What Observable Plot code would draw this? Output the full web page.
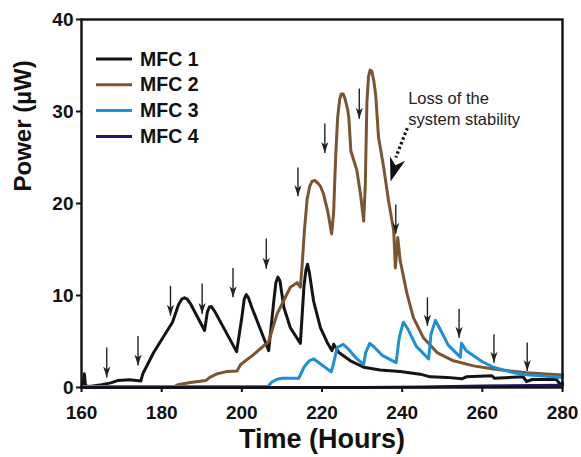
<!DOCTYPE html>
<html>
<head>
<meta charset="utf-8">
<script src="https://cdn.jsdelivr.net/npm/d3@7"></script>
<script src="https://cdn.jsdelivr.net/npm/@observablehq/plot@0.6"></script>
<style>
  html, body { margin: 0; padding: 0; background: #fff; }
  #chart { width: 581px; height: 457px; }
</style>
</head>
<body>
<div id="chart"></div>
<script>
// ---- data (hours, power µW) ----
const seriesNames = ["MFC 1", "MFC 2", "MFC 3", "MFC 4"];
const seriesColors = ["#141414", "#7b5532", "#1b8fd9", "#1e1565"];

const mfc1 = [[160,0],[160.4,0.1],[160.7,1.5],[161,0.2],[162,0.1],[165,0.3],[167.3,0.5],[169,0.75],[172,0.85],[174.8,0.7],[175.3,1.5],[178,3.8],[182.7,7.1],[184.2,9.0],[185,9.6],[185.7,9.75],[186.4,9.6],[187.2,9.1],[190.7,6.2],[191.4,8.2],[191.9,8.75],[192.4,8.8],[193.2,8.3],[198.7,3.9],[200,7.6],[200.6,9.6],[201.1,10.1],[201.6,9.8],[202.5,8.7],[206.7,4.0],[208,9.5],[208.5,11.4],[209,12.0],[209.5,11.6],[210.5,8.7],[212.1,6.5],[214.6,4.8],[215.5,11],[216,12.8],[216.4,13.4],[216.8,12.6],[217.9,9.4],[219.6,6.5],[221.3,4.9],[222.5,4.0],[222.9,4.7],[224.2,3.8],[227.1,2.9],[230.4,2.2],[234.5,1.9],[239.5,1.75],[244.5,1.45],[247,1.16],[251.2,1.1],[254.9,0.95],[256,1.16],[262.4,1.27],[263,1.0],[270.2,1.16],[271,0.65],[272.5,0.87],[278.5,0.87],[279.5,0.3],[280,0.5]];

const mfc2 = [[160,0],[183,0.05],[184,0.3],[187.2,0.55],[191,0.75],[192,1.1],[193.9,1.5],[196.4,1.75],[198.8,1.8],[199.7,2.5],[203,3.6],[206.7,5.0],[208.8,8.0],[212.1,10.9],[213.8,11.4],[214.6,10.9],[215,13],[215.6,17],[216.3,20.5],[216.9,21.8],[217.5,22.4],[218.2,22.5],[219,22.2],[219.7,21.8],[220.4,21],[221.5,19],[222.4,16.7],[222.9,19],[223.4,25],[223.9,29.3],[224.4,31.3],[224.8,31.9],[225.3,31.9],[225.8,31.3],[226.4,30.2],[226.7,29.3],[227.2,25.7],[228.7,23.6],[229.6,21],[230.4,18.1],[230.8,22],[231.2,31],[231.6,33.8],[232,34.5],[232.4,34.4],[232.9,33.4],[233.4,31.8],[234.1,27.2],[235.4,23.9],[236.6,20.3],[237.9,17],[238.3,13],[238.9,16.3],[239.5,13.8],[241.2,10.2],[242.8,7.6],[245.3,5.4],[248.7,3.8],[252.8,2.9],[257.8,2.35],[262.8,2.0],[271,1.6],[280,1.35]];

const mfc3 = [[160,0.1],[206.5,0.1],[207.5,0.6],[208.8,0.9],[210,1.0],[214.2,1.0],[215.5,2.2],[216.8,2.9],[217.9,3.1],[219.5,2.6],[222.3,1.7],[222.7,2.3],[223.8,4.35],[225.3,4.7],[226.5,4.2],[228.5,3.2],[230.4,2.5],[230.9,3.8],[231.9,4.8],[233,4.4],[235,3.5],[238.5,2.7],[239.3,5.5],[240.3,7.1],[241.5,6.3],[243.5,4.5],[246.6,3.1],[247.2,5.8],[248.3,7.3],[249.5,6.3],[251.5,4.6],[254.5,3.3],[254.8,4.8],[256,4.0],[257.8,3.45],[260,2.8],[262.8,2.2],[267.8,1.6],[271,1.38],[280,1.1]];

const mfc4 = [[160,0],[230,0],[245,0.05],[260,0.15],[280,0.25]];

// feeding arrows: [hour, top value, tip value]
const feedArrows = [[166.3,4.35,1.1],[174.1,5.6,2.4],[182.2,11.05,7.8],[190.1,11.3,8.0],[197.8,13.0,9.8],[206.1,16.2,12.9],[214.0,23.9,20.8],[220.7,28.7,25.5],[229.3,32.5,29.2],[238.4,19.9,16.7],[246.3,9.8,6.7],[254.2,8.55,5.4],[262.9,5.8,2.7],[271.2,4.9,1.8]];

const xTicks = [160, 180, 200, 220, 240, 260, 280];
const yTicks = [0, 10, 20, 30, 40];
const xTitle = "Time (Hours)";
const yTitle = "Power (µW)";
const noteLines = ["Loss of the", "system stability"];
// dotted annotation arrow: [hour, value] start, end, tip
const noteArrow = {x1: 241.3, y1: 28.2, x2: 238.4, y2: 25.0, tipX: 237.1, tipY: 22.4};

// ---- build table ----
const rows = [];
[mfc1, mfc2, mfc3, mfc4].forEach((s, i) => s.forEach(([h, p]) => rows.push({series: seriesNames[i], hour: h, power: p})));
const arrows = feedArrows.map(([h, t, b]) => ({hour: h, top: t, bottom: b}));

const FONT = "'Liberation Sans', Arial, Helvetica, sans-serif";

const smallHead = {
  draw(ctx) {
    ctx.moveTo(0, 0);
    ctx.lineTo(-3.6, -11);
    ctx.lineTo(0, -8);
    ctx.lineTo(3.6, -11);
    ctx.closePath();
  }
};
const bigHead = {
  draw(ctx) {
    ctx.moveTo(0, 0);
    ctx.lineTo(-8, -24);
    ctx.lineTo(0, -17);
    ctx.lineTo(8, -24);
    ctx.closePath();
  }
};

const drawOrder = ["MFC 1", "MFC 2", "MFC 3", "MFC 4"];

const plot = Plot.plot({
  width: 581,
  height: 457,
  marginLeft: 81,
  marginRight: 19,
  marginTop: 19,
  marginBottom: 70,
  style: {fontFamily: FONT, fontSize: "19px", fontWeight: "bold", background: "#fff", color: "#111"},
  x: {domain: [160, 280]},
  y: {domain: [0, 40]},
  color: {domain: seriesNames, range: seriesColors},
  marks: [
    Plot.axisX({ticks: xTicks, tickSize: 5, tickPadding: 13, strokeWidth: 2, label: null, tickFormat: d => String(d)}),
    Plot.axisY({ticks: yTicks, tickSize: 5, tickPadding: 3, strokeWidth: 2, label: null, tickFormat: d => String(d)}),
    ...drawOrder.map(name => Plot.line(rows.filter(r => r.series === name), {x: "hour", y: "power", stroke: "series", strokeWidth: 3, strokeLinejoin: "round", strokeLinecap: "round"})),
    Plot.link(arrows, {x1: "hour", x2: "hour", y1: "top", y2: "bottom", stroke: "#222", strokeWidth: 1.4}),
    Plot.dot(arrows, {x: "hour", y: "bottom", symbol: smallHead, fill: "#222", stroke: null, r: 4}),
    Plot.link([noteArrow], {x1: "x1", y1: "y1", x2: "x2", y2: "y2", stroke: "#111", strokeWidth: 3.2, strokeDasharray: "2.5,2.5"}),
    Plot.dot([noteArrow], {x: "tipX", y: "tipY", symbol: bigHead, fill: "#111", stroke: null, r: 8, rotate: 17}),
    Plot.text([noteLines.join("\n")], {x: 241.5, y: 32.5, text: d => d, textAnchor: "start", lineAnchor: "top", lineHeight: 1.28, fontSize: 16.5, fontWeight: "normal", fill: "#222"}),
    Plot.text([xTitle], {frameAnchor: "bottom", dy: 52, text: d => d, fontSize: 27, fontWeight: "bold", lineAnchor: "middle", fill: "#111"}),
    Plot.text([yTitle], {frameAnchor: "left", dx: -58, dy: -12, rotate: -90, text: d => d, fontSize: 24, fontWeight: "bold", lineAnchor: "middle", fill: "#111"}),
    Plot.frame({stroke: "#111", strokeWidth: 2.4})
  ]
});

// legend inside the frame (top-left)
const lg = d3.select(plot).append("g").attr("font-family", FONT).attr("text-anchor", "start");
seriesNames.forEach((name, i) => {
  const y = 59 + i * 25.8;
  lg.append("line").attr("x1", 96).attr("x2", 132).attr("y1", y).attr("y2", y)
    .attr("stroke", seriesColors[i]).attr("stroke-width", 3);
  lg.append("text").attr("x", 140).attr("y", y + 6.5).attr("font-size", 19.5).attr("font-weight", "bold")
    .attr("text-anchor", "start").attr("fill", "#111").text(name);
});

document.getElementById("chart").appendChild(plot);
</script>
</body>
</html>
